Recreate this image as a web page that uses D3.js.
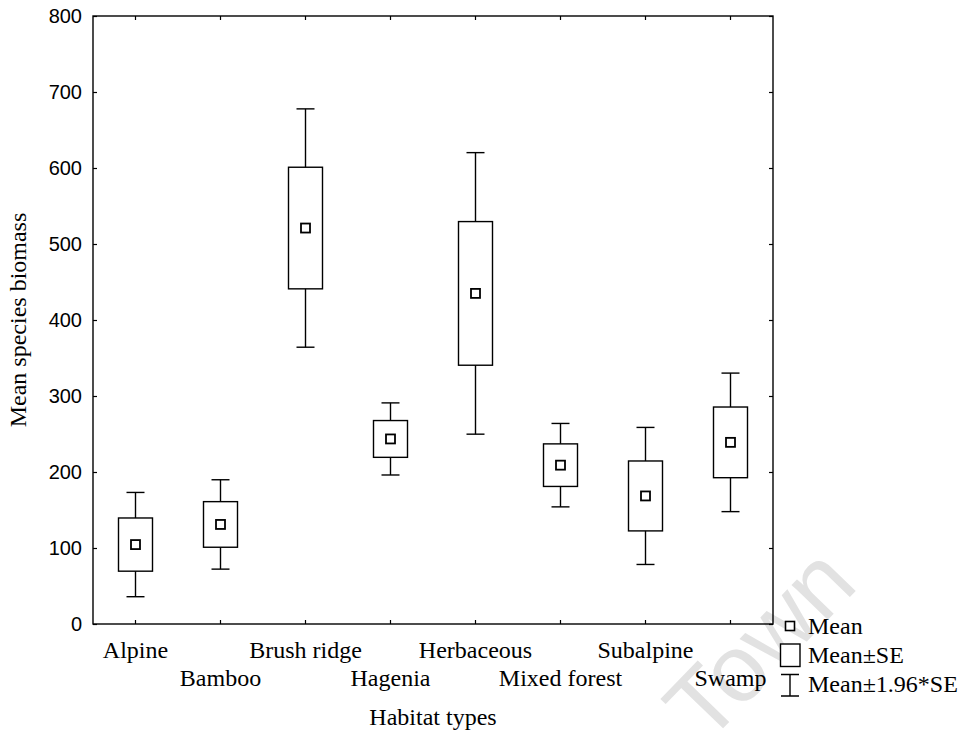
<!DOCTYPE html>
<html>
<head>
<meta charset="utf-8">
<script src="https://cdn.jsdelivr.net/npm/d3@7.9.0/dist/d3.min.js"></script>
<style>
  body { margin: 0; background: #fff; }
  svg { display: block; }
</style>
</head>
<body>
<svg id="chart" width="968" height="738"></svg>
<script>
// Habitat categories and the values
const habitats = ['Alpine', 'Bamboo', 'Brush ridge', 'Hagenia', 'Herbaceous', 'Mixed forest', 'Subalpine', 'Swamp'];
const means = [104.5, 131, 521, 243.5, 435, 209, 168.5, 239];
const se = [35, 30, 80, 24.2, 94.5, 28, 46, 46.5];
const yTicks = [0, 100, 200, 300, 400, 500, 600, 700, 800];
const legendLabels = ['Mean', 'Mean\u00b1SE', 'Mean\u00b11.96*SE'];

const serif = '"Liberation Serif", "Times New Roman", serif';
const sans = '"Liberation Sans", Arial, sans-serif';

const svg = d3.select('#chart');

// plot frame
const plotL = 93, plotR = 773, plotT = 16, plotB = 624;

let x = d3.scaleBand().domain(habitats).range([plotL, plotR]).padding(0);
let y = d3.scaleLinear().domain([0, 800]).range([plotB, plotT]);

// watermark (drawn first so everything sits on top)
svg.append('text')
  .attr('transform', 'translate(706,746) rotate(-46)')
  .attr('font-family', sans)
  .attr('font-size', 95)
  .attr('fill', '#e2e2e2')
  .text('Town');

// axes, all ticks pointing inward
let gLeft = svg.append('g').attr('transform', `translate(${plotL},0)`)
  .call(d3.axisLeft(y).tickValues(yTicks).tickSizeInner(-4).tickSizeOuter(0).tickPadding(11));
let gRight = svg.append('g').attr('transform', `translate(${plotR},0)`)
  .call(d3.axisRight(y).tickValues(yTicks).tickSizeInner(-4).tickSizeOuter(0).tickFormat(''));
let gBottom = svg.append('g').attr('transform', `translate(0,${plotB})`)
  .call(d3.axisBottom(x).tickSizeInner(-4).tickSizeOuter(0).tickFormat(''));
let gTop = svg.append('g').attr('transform', `translate(0,${plotT})`)
  .call(d3.axisTop(x).tickSizeInner(-4).tickSizeOuter(0).tickFormat(''));

[gLeft, gRight, gBottom, gTop].forEach(g => {
  g.select('.domain').remove();
  g.selectAll('line').attr('stroke', '#000').attr('stroke-width', 1.2);
});
gLeft.selectAll('text')
  .attr('font-family', sans)
  .attr('font-size', 20)
  .attr('fill', '#000');

svg.append('rect')
  .attr('x', plotL).attr('y', plotT)
  .attr('width', plotR - plotL).attr('height', plotB - plotT)
  .attr('fill', 'none').attr('stroke', '#000').attr('stroke-width', 1.4);

// staggered category labels
svg.append('g').selectAll('text')
  .data(habitats)
  .join('text')
  .attr('x', d => x(d) + x.bandwidth() / 2)
  .attr('y', (d, i) => i % 2 === 0 ? 658 : 686)
  .attr('text-anchor', 'middle')
  .attr('font-family', serif)
  .attr('font-size', 24)
  .text(d => d);

// box plots: whisker = mean +- 1.96*SE, box = mean +- SE
const boxW = 34, capW = 18, markW = 9;
let rows = habitats.map((h, i) => ({ h, m: means[i], s: se[i] }));
let boxes = svg.append('g').selectAll('g')
  .data(rows)
  .join('g')
  .attr('transform', d => `translate(${x(d.h) + x.bandwidth() / 2},0)`);

boxes.append('line')
  .attr('y1', d => y(d.m + 1.96 * d.s)).attr('y2', d => y(d.m - 1.96 * d.s))
  .attr('stroke', '#000').attr('stroke-width', 1.4);
boxes.append('line')
  .attr('x1', -capW / 2).attr('x2', capW / 2)
  .attr('y1', d => y(d.m + 1.96 * d.s)).attr('y2', d => y(d.m + 1.96 * d.s))
  .attr('stroke', '#000').attr('stroke-width', 1.4);
boxes.append('line')
  .attr('x1', -capW / 2).attr('x2', capW / 2)
  .attr('y1', d => y(d.m - 1.96 * d.s)).attr('y2', d => y(d.m - 1.96 * d.s))
  .attr('stroke', '#000').attr('stroke-width', 1.4);
boxes.append('rect')
  .attr('x', -boxW / 2).attr('width', boxW)
  .attr('y', d => y(d.m + d.s)).attr('height', d => y(d.m - d.s) - y(d.m + d.s))
  .attr('fill', '#fff').attr('stroke', '#000').attr('stroke-width', 1.4);
boxes.append('rect')
  .attr('x', -markW / 2).attr('width', markW)
  .attr('y', d => y(d.m) - markW / 2).attr('height', markW)
  .attr('fill', '#fff').attr('stroke', '#000').attr('stroke-width', 1.8);

// axis titles
svg.append('text')
  .attr('x', (plotL + plotR) / 2).attr('y', 725)
  .attr('text-anchor', 'middle')
  .attr('font-family', serif).attr('font-size', 24)
  .text('Habitat types');
svg.append('text')
  .attr('transform', 'translate(26,320) rotate(-90)')
  .attr('text-anchor', 'middle')
  .attr('font-family', serif).attr('font-size', 24)
  .text('Mean species biomass');

// legend
let legend = svg.append('g');
legend.append('rect')
  .attr('x', 785.5).attr('y', 621.5).attr('width', 9).attr('height', 9)
  .attr('fill', '#fff').attr('stroke', '#000').attr('stroke-width', 1.6);
legend.append('rect')
  .attr('x', 780.5).attr('y', 644).attr('width', 19.5).attr('height', 22.5)
  .attr('fill', '#fff').attr('stroke', '#000').attr('stroke-width', 1.4);
legend.append('path')
  .attr('d', 'M781,674.5H799M790,674.5V696M781,696H799')
  .attr('fill', 'none').attr('stroke', '#000').attr('stroke-width', 1.4);
legend.selectAll('text.lab')
  .data(legendLabels)
  .join('text')
  .attr('class', 'lab')
  .attr('x', 808)
  .attr('y', (d, i) => [634, 663, 692][i])
  .attr('font-family', serif).attr('font-size', 24)
  .text(d => d);
</script>
</body>
</html>
